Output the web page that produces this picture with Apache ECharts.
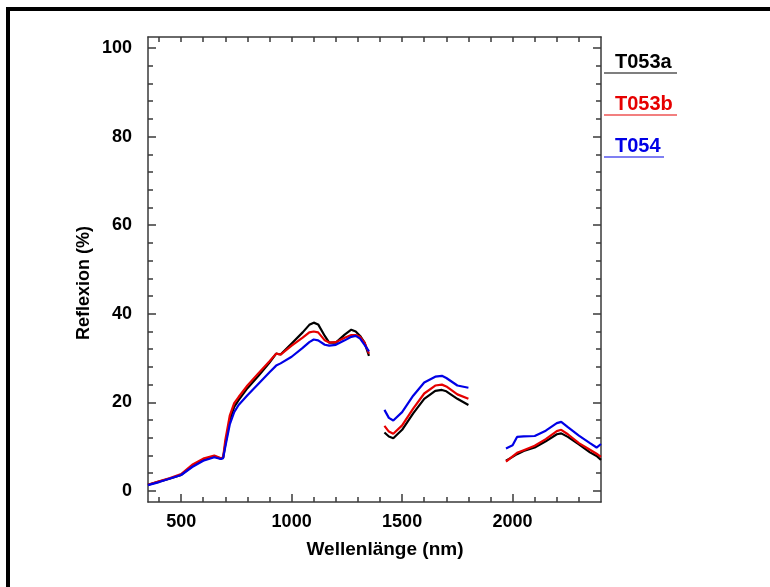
<!DOCTYPE html>
<html>
<head>
<meta charset="utf-8">
<script src="https://cdn.jsdelivr.net/npm/echarts@6/dist/echarts.min.js"></script>
<style>
  html, body { margin: 0; padding: 0; background: #fff; }
  #chart { width: 770px; height: 587px; }
</style>
</head>
<body>
<div id="chart"></div>
<script>
// Wavelengths in nm; null rows separate the water-absorption gaps
const wavelength = [
  350, 400, 450, 500, 550, 600, 650, 680, 690, 700, 720, 740, 760, 800, 850, 900, 930, 950,
  1000, 1050, 1080, 1100, 1120, 1150, 1170, 1200, 1240, 1270, 1290, 1310, 1330, 1350,
  1380,
  1420, 1440, 1460, 1500, 1550, 1600, 1650, 1680, 1700, 1750, 1800,
  1880,
  1970, 2000, 2020, 2050, 2100, 2150, 2200, 2220, 2250, 2300, 2350, 2380, 2400
];

// Reflectance (%) per sample
const t053a = [
  1.4, 2.1, 2.8, 3.6, 5.6, 7.0, 7.8, 7.3, 7.5, 10.5, 16.0, 19.0, 20.5, 23.2, 26.0, 29.0, 31.0, 30.8,
  33.3, 35.8, 37.5, 38.0, 37.6, 35.0, 33.5, 33.5, 35.3, 36.4, 36.0, 35.0, 33.5, 30.5,
  null,
  13.2, 12.3, 11.9, 13.8, 17.5, 20.8, 22.6, 22.8, 22.5, 20.8, 19.4,
  null,
  6.8, 7.7, 8.3, 9.0, 9.8, 11.2, 12.8, 13.0, 12.2, 10.5, 8.7, 7.9, 7.0
];
const t053b = [
  1.4, 2.2, 2.9, 3.8, 5.9, 7.3, 8.0, 7.4, 7.6, 11.5, 17.0, 19.8, 21.2, 23.8, 26.6, 29.3, 31.0, 30.8,
  32.8, 34.6, 35.8, 36.0, 35.8, 34.0, 33.5, 33.6, 34.6, 35.2, 35.2, 34.8, 33.5, 31.0,
  null,
  14.7, 13.4, 12.9, 14.8, 18.6, 22.0, 23.8, 24.0, 23.6, 21.8, 20.8,
  null,
  6.6, 7.8, 8.6, 9.2, 10.2, 11.7, 13.5, 13.8, 12.8, 10.8, 9.3, 8.4, 7.7
];
const t054 = [
  1.3, 2.0, 2.8, 3.6, 5.4, 6.8, 7.6, 7.2, 7.4, 10.0, 15.0, 17.8, 19.4, 21.6, 24.2, 26.8, 28.3, 28.8,
  30.3, 32.3, 33.6, 34.2, 34.0, 33.0, 32.8, 33.0, 34.0, 34.8, 35.0, 34.4, 33.0, 31.5,
  null,
  18.3, 16.5, 15.9, 17.8, 21.5, 24.5, 25.8, 26.0, 25.5, 23.8, 23.3,
  null,
  9.6, 10.3, 12.2, 12.3, 12.4, 13.6, 15.3, 15.6, 14.4, 12.5, 10.8, 9.8, 10.6
];

const seriesNames = ['T053a', 'T053b', 'T054'];
const seriesValues = [t053a, t053b, t054];
const seriesColors = ['#000000', '#e60000', '#0000e6'];

// Tick positions
const xLabelTicks = [500, 1000, 1500, 2000];
const xMinorTicks = [400, 500, 600, 700, 800, 900, 1000, 1100, 1200, 1300, 1400, 1500, 1600, 1700,
  1800, 1900, 2000, 2100, 2200, 2300];
const yLabelTicks = [0, 20, 40, 60, 80, 100];
const yMinorTicks = [0, 4, 8, 12, 16, 20, 24, 28, 32, 36, 40, 44, 48, 52, 56, 60, 64, 68, 72, 76,
  80, 84, 88, 92, 96, 100];

const X_MIN = 350, X_MAX = 2400, Y_MIN = -2.5, Y_MAX = 102.5;
const FONT = '"Liberation Sans", Arial, sans-serif';
const AXIS_COLOR = '#3a3a3a';

function plain(v) { return String(v); }

function xAxisDef(position, ticks, len, withLabels, withLine) {
  return {
    type: 'value', position: position, min: X_MIN, max: X_MAX,
    axisLine: { show: withLine, onZero: false, lineStyle: { color: AXIS_COLOR, width: 1.5 } },
    axisTick: { show: true, inside: true, length: len, customValues: ticks,
      lineStyle: { color: AXIS_COLOR, width: 1.5 } },
    axisLabel: withLabels ? { show: true, customValues: xLabelTicks, margin: 11, formatter: plain,
      color: '#000', fontFamily: FONT, fontWeight: 'bold', fontSize: 18 } : { show: false },
    splitLine: { show: false }
  };
}
function yAxisDef(position, ticks, len, withLabels, withLine) {
  return {
    type: 'value', position: position, min: Y_MIN, max: Y_MAX,
    axisLine: { show: withLine, onZero: false, lineStyle: { color: AXIS_COLOR, width: 1.5 } },
    axisTick: { show: true, inside: true, length: len, customValues: ticks,
      lineStyle: { color: AXIS_COLOR, width: 1.5 } },
    axisLabel: withLabels ? { show: true, customValues: yLabelTicks, margin: 16, formatter: plain,
      color: '#000', fontFamily: FONT, fontWeight: 'bold', fontSize: 18 } : { show: false },
    splitLine: { show: false }
  };
}

const chart = echarts.init(document.getElementById('chart'), null, { renderer: 'canvas' });

// Key: sample name with an underline starting at the right frame edge
const legendGraphics = [];
seriesNames.forEach(function (name, i) {
  const cy = 63 + i * 42;
  legendGraphics.push({
    type: 'text', left: 615, top: cy - 11,
    style: { text: name, fill: seriesColors[i], font: 'bold 20px ' + FONT }
  });
  legendGraphics.push({
    type: 'line',
    shape: { x1: 604, y1: cy + 10, x2: 615 + (name.length === 5 ? 62 : 49), y2: cy + 10 },
    style: { stroke: seriesColors[i], lineWidth: 1.2 }
  });
});

chart.setOption({
  animation: false,
  backgroundColor: '#ffffff',
  grid: { left: 148, top: 37, right: 169, bottom: 85, containLabel: false },
  xAxis: [
    xAxisDef('bottom', xLabelTicks, 8, true, true),
    xAxisDef('bottom', xMinorTicks, 5, false, false),
    xAxisDef('top', xMinorTicks, 5, false, true)
  ],
  yAxis: [
    yAxisDef('left', yLabelTicks, 8, true, true),
    yAxisDef('left', yMinorTicks, 5, false, false),
    yAxisDef('right', yLabelTicks, 8, false, true),
    yAxisDef('right', yMinorTicks, 5, false, false)
  ],
  series: seriesNames.map(function (name, i) {
    return {
      name: name,
      type: 'line',
      xAxisIndex: 0,
      yAxisIndex: 0,
      data: wavelength.map(function (w, k) { return [w, seriesValues[i][k]]; }),
      showSymbol: false,
      symbol: 'none',
      connectNulls: false,
      lineStyle: { color: seriesColors[i], width: 2.2 },
      itemStyle: { color: seriesColors[i] }
    };
  }),
  graphic: [
    // outer frame (top and left edges)
    { type: 'rect', shape: { x: 6, y: 7, width: 764, height: 4 }, style: { fill: '#000' } },
    { type: 'rect', shape: { x: 6, y: 7, width: 4, height: 580 }, style: { fill: '#000' } },
    {
      type: 'text', left: 'center', top: 540, x: 0,
      style: { text: 'Wellenlänge (nm)', fill: '#000', font: 'bold 19px ' + FONT }
    },
    {
      type: 'text', rotation: Math.PI / 2, x: 75, y: 340,
      style: { text: 'Reflexion (%)', fill: '#000', font: 'bold 18px ' + FONT }
    }
  ].concat(legendGraphics)
});
</script>
</body>
</html>
